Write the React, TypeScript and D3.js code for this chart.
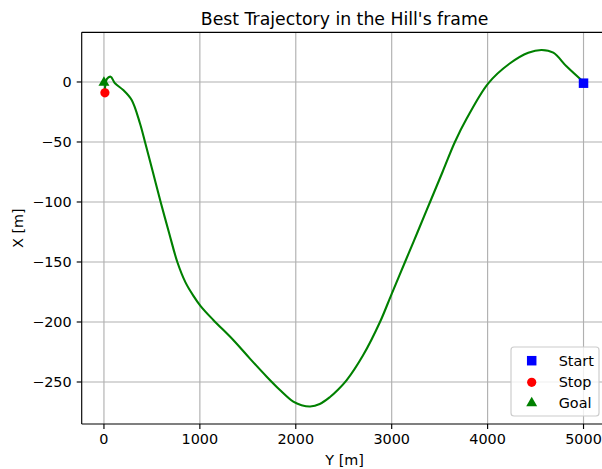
import React from "react";
import * as d3 from "d3";

// Trajectory samples (Y, X) in metres, from start to final stop
const trajY = [5000, 4825, 4685, 4564, 4424, 4234, 4007, 3782, 3659, 3530, 3400, 3270, 3139, 3000, 2878, 2700, 2531, 2440, 2357, 2250, 2150, 2060, 1974, 1835, 1697, 1522, 1348, 1140, 1008, 931, 850, 765, 680, 591, 510, 428, 375, 289, 201, 115, 70, 31, 12, 8];
const trajX = [0, 12.8, 24.4, 26.7, 24.4, 15.6, -1.1, -30.5, -50, -75, -100, -125, -150, -176.5, -200, -228, -248.5, -256.5, -262.5, -268.3, -270.4, -269.3, -266.4, -256.7, -245.6, -230.5, -215, -198.3, -186.7, -178, -167, -150, -126, -100, -75, -50, -34.4, -15, -6.7, -1.1, 4.4, 2.5, -4, -8];

const startPt = [5000, -1];
const stopPt = [10, -9];
const goalPt = [0, 0];

const xTicks = [0, 1000, 2000, 3000, 4000, 5000];
const yTicks = [0, -50, -100, -150, -200, -250];
const legendLabels = ["Start", "Stop", "Goal"];

const W = 602;
const H = 469;
const FONT = "DejaVu Sans, sans-serif";

const fmt = (v: number) => (v < 0 ? "\u2212" + Math.abs(v) : String(v));

export default function App() {
  const x = d3.scaleLinear().domain([-232, 5250]).range([81.7, 607.5]);
  const y = d3.scaleLinear().domain([-285, 41.4]).range([424, 32.3]);
  const [x0, x1] = x.range();
  const [yb, yt] = y.range();

  const pts = trajY.map((v, i) => [v, trajX[i]] as [number, number]);
  const line = d3
    .line<[number, number]>()
    .x((d) => x(d[0]))
    .y((d) => y(d[1]))
    .curve(d3.curveCatmullRom.alpha(0.5));

  const tri = d3.symbol().type(d3.symbolTriangle).size(52)();
  const sq = 9.5;

  const lx = 511;
  const ly = 347;
  const rowY = [360.7, 382.3, 402.7];
  const markX = 531.7;

  return (
    <svg
      width={W}
      height={H}
      style={{ position: "absolute", left: 0, top: 0, background: "#fff" }}
      fontFamily={FONT}
    >
      <rect x={0} y={0} width={W} height={H} fill="#fff" />
      {/* grid */}
      {xTicks.map((t) => (
        <line key={"gx" + t} x1={x(t)} x2={x(t)} y1={yt} y2={yb} stroke="#b0b0b0" strokeWidth={1.15} />
      ))}
      {yTicks.map((t) => (
        <line key={"gy" + t} x1={x0} x2={x1} y1={y(t)} y2={y(t)} stroke="#b0b0b0" strokeWidth={1.15} />
      ))}

      {/* trajectory */}
      <path d={line(pts) || ""} fill="none" stroke="#008000" strokeWidth={2.1} strokeLinejoin="round" strokeLinecap="round" />

      {/* markers */}
      <rect x={x(startPt[0]) - sq / 2} y={y(startPt[1]) - sq / 2} width={sq} height={sq} fill="#0000ff" />
      <circle cx={x(stopPt[0])} cy={y(stopPt[1])} r={4.6} fill="#ff0000" />
      <path d={tri || ""} transform={`translate(${x(goalPt[0])},${y(goalPt[1]) + 0.5})`} fill="#008000" />

      {/* spines */}
      <line x1={x0} x2={x0} y1={yt} y2={yb} stroke="#000" strokeWidth={1.15} />
      <line x1={x0} x2={x1} y1={yb} y2={yb} stroke="#000" strokeWidth={1.15} />
      <line x1={x0} x2={x1} y1={yt} y2={yt} stroke="#000" strokeWidth={1.15} />
      <line x1={x1} x2={x1} y1={yt} y2={yb} stroke="#000" strokeWidth={1.15} />

      {/* x ticks */}
      {xTicks.map((t) => (
        <g key={"tx" + t}>
          <line x1={x(t)} x2={x(t)} y1={yb} y2={yb + 5} stroke="#000" strokeWidth={1.15} />
          <text x={x(t)} y={443.5} textAnchor="middle" fontSize={14.4} fill="#000">
            {fmt(t)}
          </text>
        </g>
      ))}
      {/* y ticks */}
      {yTicks.map((t) => (
        <g key={"ty" + t}>
          <line x1={x0 - 5} x2={x0} y1={y(t)} y2={y(t)} stroke="#000" strokeWidth={1.15} />
          <text x={71.7} y={y(t)} dy="0.36em" textAnchor="end" fontSize={14.4} fill="#000">
            {fmt(t)}
          </text>
        </g>
      ))}

      {/* labels */}
      <text x={(x0 + x1) / 2} y={24.5} textAnchor="middle" fontSize={17.3} fill="#000">
        Best Trajectory in the Hill's frame
      </text>
      <text x={(x0 + x1) / 2} y={465} textAnchor="middle" fontSize={14.4} fill="#000">
        Y [m]
      </text>
      <text
        transform={`translate(23,${(yt + yb) / 2}) rotate(-90)`}
        textAnchor="middle"
        fontSize={14.4}
        fill="#000"
      >
        X [m]
      </text>

      {/* legend */}
      <rect x={lx} y={ly} width={88} height={69} rx={3} fill="#fff" fillOpacity={0.8} stroke="#cccccc" strokeWidth={1.15} />
      <rect x={markX - sq / 2} y={rowY[0] - sq / 2} width={sq} height={sq} fill="#0000ff" />
      <circle cx={markX} cy={rowY[1]} r={4.6} fill="#ff0000" />
      <path d={tri || ""} transform={`translate(${markX},${rowY[2] + 0.5})`} fill="#008000" />
      {legendLabels.map((l, i) => (
        <text key={l} x={558.7} y={rowY[i]} dy="0.36em" fontSize={14.4} fill="#000">
          {l}
        </text>
      ))}
    </svg>
  );
}
